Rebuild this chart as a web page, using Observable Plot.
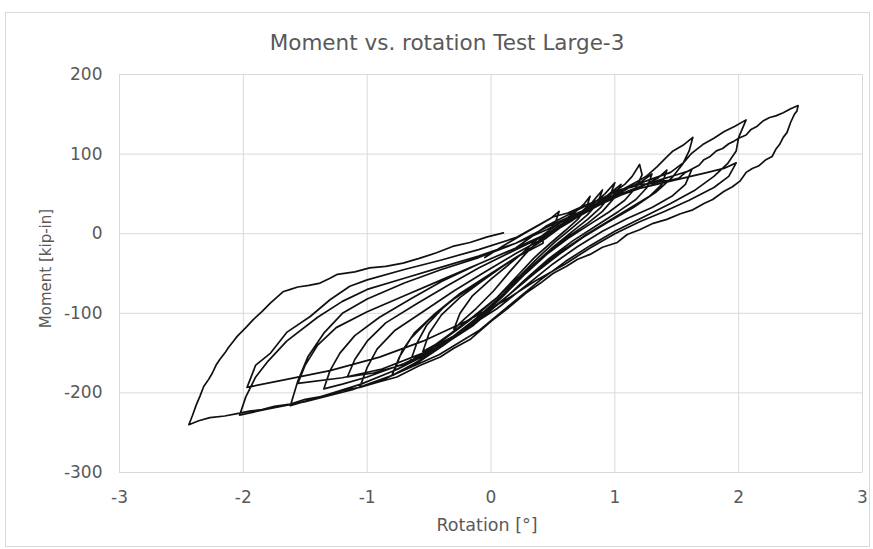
<!DOCTYPE html>
<html><head><meta charset="utf-8">
<script src="https://cdn.jsdelivr.net/npm/d3@7"></script>
<script src="https://cdn.jsdelivr.net/npm/@observablehq/plot@0.6"></script>
<style>body{margin:0;background:#fff} svg{display:block}</style>
</head><body><div id="chart"></div>
<script>
// Hysteresis cycles: rotation [deg] and moment [kip-in]
const cycle1Rot = [-0.05, 0.1, 0.2, 0.3, 0.4, 0.48, 0.55, 0.52, 0.46, 0.38, 0.28, 0.15, 0.02, -0.12, -0.22, -0.3, -0.25, -0.15, 0, 0.15, 0.25];
const cycle1Mom = [-30, -15, -6, 3, 12, 19, 28, 14, 2, -10, -25, -48, -72, -94, -108, -120, -100, -78, -57, -38, -25];
const cycle2Rot = [0.35, 0.45, 0.58, 0.68, 0.75, 0.8, 0.77, 0.7, 0.6, 0.48, 0.35, 0.2, 0.05, -0.1, -0.25, -0.4, -0.55, -0.5, -0.4, -0.25, -0.05, 0.15, 0.3];
const cycle2Mom = [-10, 2, 16, 27, 37, 47, 32, 18, 4, -12, -30, -55, -80, -100, -118, -135, -148, -125, -102, -80, -57, -35, -20];
const cycle3Rot = [0.45, 0.6, 0.72, 0.82, 0.9, 0.86, 0.78, 0.66, 0.52, 0.38, 0.22, 0.05, -0.15, -0.35, -0.5, -0.65, -0.6, -0.52, -0.38, -0.2, 0, 0.2, 0.42];
const cycle3Mom = [-5, 12, 26, 40, 55, 38, 24, 8, -10, -30, -55, -80, -105, -128, -145, -160, -138, -115, -92, -70, -50, -30, -12];
const cycle4Rot = [0.42, 0.55, 0.7, 0.82, 0.92, 1.0, 0.96, 0.88, 0.78, 0.65, 0.5, 0.35, 0.18, 0.0, -0.2, -0.42, -0.62, -0.8, -0.74, -0.65, -0.5, -0.3, -0.05, 0.2, 0.35];
const cycle4Mom = [-4, 10, 24, 37, 50, 64, 47, 32, 18, 2, -17, -38, -65, -92, -118, -144, -163, -178, -155, -132, -108, -82, -56, -30, -15];
const cycle5Rot = [0.5, 0.66, 0.8, 0.93, 1.05, 0.99, 0.9, 0.78, 0.62, 0.45, 0.28, 0.1, -0.1, -0.33, -0.56, -0.78, -0.72, -0.62, -0.45, -0.25, 0, 0.25, 0.4];
const cycle5Mom = [2, 17, 32, 47, 62, 44, 28, 13, -4, -24, -48, -76, -104, -132, -155, -172, -148, -125, -100, -75, -50, -25, -10];
const cycle6Rot = [0.55, 0.72, 0.88, 1.0, 1.08, 1.14, 1.2, 1.22, 1.17, 1.08, 0.95, 0.8, 0.62, 0.45, 0.28, 0.1, -0.12, -0.38, -0.62, -0.85, -1.06, -1.0, -0.92, -0.78, -0.55, -0.3, -0.05, 0.2, 0.4];
const cycle6Mom = [8, 24, 40, 53, 62, 72, 87, 74, 58, 42, 27, 12, -6, -26, -50, -78, -110, -140, -165, -182, -193, -168, -145, -122, -98, -72, -48, -25, -8];
const cycle7Rot = [0.6, 0.8, 0.98, 1.12, 1.22, 1.3, 1.26, 1.17, 1.03, 0.85, 0.66, 0.47, 0.28, 0.08, -0.18, -0.45, -0.72, -0.95, -1.16, -1.1, -1.0, -0.85, -0.6, -0.35, -0.1, 0.2, 0.4];
const cycle7Mom = [12, 30, 46, 58, 66, 75, 58, 43, 28, 10, -9, -31, -57, -86, -118, -146, -165, -175, -180, -158, -135, -112, -88, -65, -43, -20, -5];
const cycle8Rot = [0.65, 0.9, 1.1, 1.25, 1.35, 1.42, 1.38, 1.28, 1.12, 0.95, 0.75, 0.55, 0.35, 0.15, -0.1, -0.4, -0.7, -1.0, -1.2, -1.35, -1.3, -1.22, -1.1, -0.9, -0.65, -0.4, -0.1, 0.2, 0.45];
const cycle8Mom = [18, 38, 52, 62, 70, 80, 62, 47, 32, 16, -3, -24, -48, -76, -108, -140, -163, -180, -189, -195, -172, -150, -128, -105, -82, -60, -38, -18, 0];
const cycle9Rot = [0.55, 0.78, 0.95, 1.08, 1.2, 1.26, 1.34, 1.41, 1.47, 1.55, 1.63, 1.6, 1.55, 1.46, 1.33, 1.15, 0.95, 0.75, 0.55, 0.35, 0.12, -0.15, -0.45, -0.75, -1.05, -1.32, -1.62, -1.56, -1.48, -1.35, -1.2, -1.0, -0.7, -0.4, -0.1, 0.2];
const cycle9Mom = [8, 28, 45, 57, 67, 73, 84, 95, 104, 111, 121, 104, 88, 70, 52, 33, 15, -4, -26, -50, -80, -116, -146, -170, -189, -202, -216, -185, -155, -125, -100, -82, -62, -45, -30, -12];
const cycle10Rot = [0.45, 0.7, 0.95, 1.18, 1.37, 1.5, 1.62, 1.57, 1.46, 1.3, 1.1, 0.9, 0.7, 0.5, 0.3, 0.05, -0.25, -0.55, -0.88, -1.2, -1.56, -1.5, -1.4, -1.25, -1.0, -0.7, -0.4, -0.1, 0.2];
const cycle10Mom = [5, 25, 44, 58, 68, 74, 80, 62, 47, 33, 19, 3, -16, -38, -63, -94, -124, -150, -170, -181, -188, -165, -140, -118, -98, -78, -58, -38, -18];
const cycle11Rot = [0.45, 0.75, 1.0, 1.25, 1.45, 1.56, 1.62, 1.71, 1.8, 1.88, 1.97, 2.06, 2.0, 1.98, 1.91, 1.8, 1.65, 1.45, 1.22, 1.0, 0.8, 0.6, 0.4, 0.18, -0.1, -0.42, -0.78, -1.12, -1.5, -1.8, -2.03, -1.98, -1.9, -1.8, -1.65, -1.4, -1.2, -1.0, -0.7, -0.4, -0.1, 0.2];
const cycle11Mom = [10, 34, 52, 66, 77, 90, 101, 112, 120, 128, 135, 143, 121, 104, 88, 72, 55, 38, 20, 3, -15, -35, -58, -86, -122, -152, -177, -196, -211, -220, -228, -205, -180, -160, -135, -105, -85, -70, -56, -42, -28, -12];
const cycle12Rot = [0.45, 0.7, 0.95, 1.2, 1.5, 1.75, 1.88, 1.98, 1.92, 1.8, 1.6, 1.4, 1.2, 1.0, 0.8, 0.6, 0.35, 0.1, -0.2, -0.55, -0.9, -1.3, -1.65, -1.97, -1.9, -1.78, -1.65, -1.46, -1.3, -1.14, -1.0, -0.7, -0.4, -0.1, 0.2];
const cycle12Mom = [8, 26, 43, 57, 68, 77, 82, 89, 72, 58, 42, 28, 15, 0, -18, -38, -60, -85, -110, -135, -155, -172, -183, -193, -165, -150, -124, -104, -83, -66, -58, -45, -33, -20, -5];
const cycle13Rot = [0.5, 0.62, 0.75, 0.88, 0.97, 1.06, 1.13, 1.2, 1.3, 1.38, 1.45, 1.52, 1.57, 1.63, 1.68, 1.72, 1.77, 1.82, 1.87, 1.92, 1.96, 2.0, 2.06, 2.1, 2.15, 2.2, 2.25, 2.3, 2.36, 2.42, 2.48,
  2.47, 2.45, 2.42, 2.39, 2.36, 2.33, 2.3, 2.27, 2.22, 2.16, 2.11, 2.06, 2.01, 1.95, 1.88, 1.79, 1.72, 1.63, 1.53, 1.42, 1.31, 1.2, 1.1, 1.02, 0.9, 0.8, 0.7, 0.61, 0.5, 0.4, 0.28, 0.15, 0.0, -0.17, -0.3, -0.41, -0.58, -0.76, -0.9, -1.06, -1.2, -1.35, -1.5, -1.62, -1.75, -1.85, -1.95, -2.05, -2.15, -2.27, -2.36, -2.44,
  -2.41, -2.38, -2.35, -2.32, -2.28, -2.25, -2.22, -2.19, -2.15, -2.12, -2.08, -2.05, -1.98, -1.92, -1.85, -1.78, -1.73, -1.68, -1.62, -1.56, -1.47, -1.38, -1.3, -1.24, -1.1, -0.98, -0.85, -0.71, -0.58, -0.44, -0.31, -0.17, -0.03, 0.1];
const cycle13Mom = [21, 26, 35, 43, 50, 56, 58, 62, 63, 66, 67, 70, 77, 82, 86, 93, 97, 104, 107, 113, 116, 120, 124, 131, 135, 142, 146, 148, 152, 157, 161,
  154, 150, 140, 127, 121, 112, 106, 97, 93, 85, 82, 77, 66, 59, 53, 43, 38, 30, 25, 18, 13, 5, -1, -11, -17, -26, -32, -41, -50, -62, -75, -92, -110, -133, -144, -155, -166, -180, -186, -193, -197, -204, -208, -214, -217, -221, -223, -226, -229, -231, -235, -240,
  -228, -215, -204, -192, -183, -175, -165, -158, -150, -143, -135, -129, -118, -108, -98, -87, -80, -73, -70, -67, -65, -62, -56, -51, -48, -43, -41, -37, -31, -24, -16, -11, -4, 1];

const xTicks = [-3, -2, -1, 0, 1, 2, 3];
const yTicks = [-300, -200, -100, 0, 100, 200];
const titleText = "Moment vs. rotation Test Large-3";
const xLabel = "Rotation [°]";
const yLabel = "Moment [kip-in]";

const cycles = [
  [cycle1Rot, cycle1Mom], [cycle2Rot, cycle2Mom], [cycle3Rot, cycle3Mom], [cycle4Rot, cycle4Mom],
  [cycle5Rot, cycle5Mom], [cycle6Rot, cycle6Mom], [cycle7Rot, cycle7Mom], [cycle8Rot, cycle8Mom],
  [cycle9Rot, cycle9Mom], [cycle10Rot, cycle10Mom], [cycle11Rot, cycle11Mom], [cycle12Rot, cycle12Mom],
  [cycle13Rot, cycle13Mom]
];
const data = [];
cycles.forEach(([r, m], ci) => r.forEach((x, i) => data.push({rotation: x, moment: m[i], cycle: ci + 1})));

const font = "'DejaVu Sans', sans-serif";
const grey = "#595959";
const chart = Plot.plot({
  width: 873, height: 549,
  marginLeft: 119, marginRight: 11, marginTop: 74, marginBottom: 77,
  x: {domain: [-3, 3]},
  y: {domain: [-300, 200]},
  style: {fontFamily: font, background: "#fff", color: grey},
  marks: [
    Plot.gridX(xTicks, {stroke: "#d9d9d9", strokeOpacity: 1, strokeWidth: 1}),
    Plot.gridY(yTicks, {stroke: "#d9d9d9", strokeOpacity: 1, strokeWidth: 1}),
    Plot.axisX(xTicks, {tickSize: 0, tickPadding: 18, fontSize: 17, fill: grey, label: null, tickFormat: d => String(d)}),
    Plot.axisY(yTicks, {tickSize: 0, tickPadding: 17, fontSize: 17, fill: grey, label: null, tickFormat: d => String(d)}),
    Plot.line(data, {x: "rotation", y: "moment", stroke: "#111", strokeWidth: 1.7, strokeLinejoin: "round"}),
    Plot.text([titleText], {frameAnchor: "top", dy: -31, dx: -44, fontSize: 21.5, fill: grey, lineAnchor: "middle"}),
    Plot.text([xLabel], {frameAnchor: "bottom", dy: 53, dx: -4, fontSize: 17.5, fill: grey, lineAnchor: "middle"}),
    Plot.text([yLabel], {frameAnchor: "left", dx: -73, dy: -5, rotate: -90, fontSize: 15, fill: grey, textAnchor: "middle", lineAnchor: "middle"})
  ]
});
d3.select(chart).insert("rect", ":first-child")
  .attr("x", 5.5).attr("y", 12.5).attr("width", 864).attr("height", 534)
  .attr("fill", "none").attr("stroke", "#d9d9d9");
document.getElementById("chart").appendChild(chart);
</script>
</body></html>
